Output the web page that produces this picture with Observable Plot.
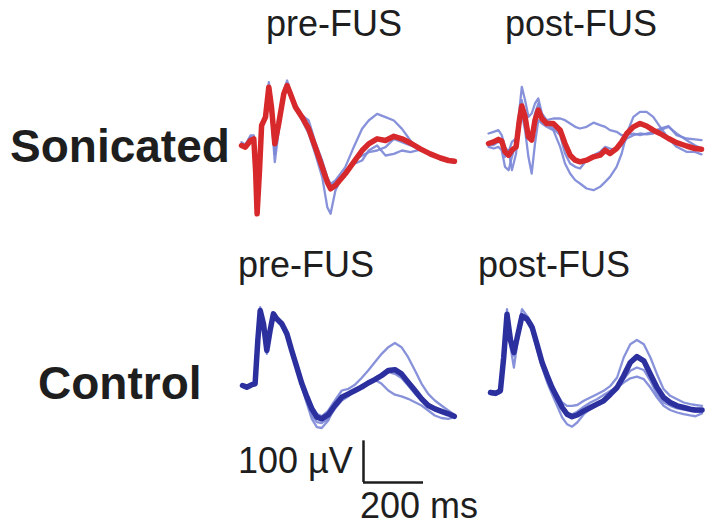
<!DOCTYPE html>
<html>
<head>
<meta charset="utf-8">
<script src="https://cdn.jsdelivr.net/npm/d3@7"></script>
<script src="https://cdn.jsdelivr.net/npm/@observablehq/plot@0.6"></script>
<style>
  html, body { margin: 0; padding: 0; background: #fff; }
  #fig { position: relative; width: 714px; height: 530px; overflow: hidden; background: #fff; font-family: "Liberation Sans", Arial, sans-serif; color: #1e1e1e; }
  .lab { position: absolute; white-space: nowrap; line-height: 1; }
  .reg { font-size: 36px; }
  .big { font-size: 46px; font-weight: bold; }
  .pnl { position: absolute; }
</style>
</head>
<body>
<div id="fig"></div>
<script>
// ---------- data (time in ms, voltage in µV) ----------
const colLabels = ["pre-FUS", "post-FUS"];
const rowLabels = ["Sonicated", "Control"];
const scaleBarVolt = 100;   // µV
const scaleBarTime = 200;   // ms
const scaleBarLabels = ["100 µV", "200 ms"];

// Sonicated, pre-FUS
const sonPreTime = [0,13,30,41,47,52,60,67,80,91,100,111,124,141,152,163,180,202,224,246,269,286,297,313,346,374,402,424,452,480,508,535,563,596,629,663,690,710];
const sonPreMean = [0,-4,12,16,-60,-164,-60,48,68,140,92,4,52,124,144,124,92,68,40,-4,-52,-88,-104,-96,-68,-40,-12,4,16,12,22,16,6,-8,-20,-30,-36,-38];
const sonPreTrialA = [8,2,24,24,-52,-130,-52,52,76,152,108,20,60,132,156,132,100,72,60,8,-36,-76,-92,-84,-52,-4,40,60,76,68,60,40,12,-12,-20,-30,-38,-42];
const sonPreTrialB = [-2,-4,20,16,-60,-156,-76,40,64,132,68,-40,36,116,148,116,88,60,28,-20,-76,-148,-164,-108,-60,-44,-36,-12,0,-24,-20,-12,-16,-10,-22,-30,-34,-41];
const sonPreTrialC = [2,-1,16,20,-56,-148,-68,44,68,136,84,-20,44,120,148,120,88,64,36,-12,-44,-84,-96,-88,-64,-36,-24,-16,-12,-4,16,8,0,-8,-18,-28,-34,-36];

// Sonicated, post-FUS
const sonPostTime = [0,17,33,44,55,67,78,92,103,111,122,133,144,155,166,178,194,216,239,255,272,289,305,327,350,372,389,405,427,444,461,483,505,527,549,572,600,627,660,688,710];
const sonPostMean = [0,4,10,6,-20,-28,-16,-8,56,90,64,16,8,56,80,60,48,48,32,0,-28,-40,-44,-40,-32,-28,-16,-24,-12,4,24,40,48,42,32,24,12,2,-6,-12,-14];
const sonPostTrialA = [24,28,32,20,-8,-20,4,12,80,136,104,64,72,96,108,72,56,60,60,56,48,40,36,40,50,44,40,32,28,20,20,24,20,24,28,36,42,20,12,10,8];
const sonPostTrialB = [-8,-12,-8,-16,-56,-64,-32,0,40,72,32,-32,-72,0,56,48,40,32,-8,-48,-72,-88,-96,-108,-112,-104,-92,-80,-56,-24,24,64,76,76,64,40,12,-8,-20,-20,-26];
const sonPostTrialC = [-4,-4,4,0,-32,-16,-64,-24,56,104,64,32,16,72,96,64,48,36,20,-24,-48,-56,-60,-40,-28,-20,-8,-12,-16,-4,12,20,24,22,24,32,40,24,8,-4,-12];

// Control, pre-FUS
const conPreTime = [0,14,31,42,51,59,70,81,92,103,114,131,148,164,181,198,215,231,248,264,286,308,331,353,375,397,419,441,464,486,508,530,552,575,597,619,641,663,686,706];
const conPreMean = [0,-4,2,4,108,180,148,84,132,172,160,148,124,84,44,4,-28,-56,-76,-80,-70,-48,-28,-20,-12,-4,6,14,24,36,38,28,8,-12,-32,-48,-56,-62,-68,-74];
const conPreTrialA = [2,-2,4,8,116,188,152,88,136,176,164,152,128,88,48,8,-24,-48,-68,-74,-60,-36,-12,-8,2,18,36,56,76,92,102,92,68,36,4,-20,-36,-48,-60,-70];
const conPreTrialB = [-2,-6,-1,2,100,172,140,76,124,166,156,142,116,80,36,-4,-40,-72,-88,-90,-80,-56,-36,-26,-12,0,8,14,4,-12,-22,-26,-32,-40,-48,-60,-72,-78,-80,-76];
const conPreTrialC = [0,-4,1,5,112,184,148,80,128,170,158,145,120,80,38,-4,-44,-80,-100,-102,-84,-48,-26,-24,-12,0,8,18,28,32,28,18,0,-20,-36,-44,-52,-60,-70,-73];

// Control, post-FUS
const conPostTime = [0,17,33,44,55,67,78,89,105,122,139,155,172,189,205,222,239,255,272,289,311,333,355,377,400,422,444,466,488,511,533,555,577,599,622,644,666,683,705];
const conPostMean = [0,-2,4,84,188,124,96,132,184,176,156,116,72,40,12,-12,-36,-52,-58,-54,-44,-36,-28,-20,-4,12,40,72,86,76,44,12,-12,-24,-32,-36,-40,-42,-42];
const conPostTrialA = [4,2,8,92,200,132,100,140,200,184,164,120,76,44,16,-4,-24,-32,-32,-30,-20,-12,-4,4,16,36,84,116,126,116,84,44,8,-8,-16,-24,-28,-30,-32];
const conPostTrialB = [-4,-6,0,72,180,108,60,116,180,172,148,104,60,24,-4,-32,-60,-76,-82,-72,-52,-40,-32,-24,-8,12,24,34,38,32,12,-12,-32,-42,-48,-52,-55,-57,-50];
const conPostTrialC = [-1,-3,3,80,184,120,88,128,188,178,158,118,74,38,8,-18,-40,-50,-52,-46,-34,-24,-16,-6,4,12,32,52,60,54,28,-4,-24,-32,-38,-41,-44,-46,-47];

// ---------- drawing ----------
const thinColor = "#7a86d6";
const redColor = "#d7282b";
const navyColor = "#2c309e";

const X_DOMAIN = [-20, 730];      // 225 px -> 3.33 ms per px
const Y_DOMAIN = [-201.6, 201.6]; // 168 px -> 2.4 µV per px
const PW = 225, PH = 168;

function panel(time, trials, mean, meanColor) {
  const trialRows = trials.flatMap((vals, k) => vals.map((v, i) => ({t: time[i], v, k})));
  const meanRows = mean.map((v, i) => ({t: time[i], v}));
  return Plot.plot({
    width: PW, height: PH, margin: 0,
    style: {background: "transparent", overflow: "visible"},
    x: {domain: X_DOMAIN, axis: null},
    y: {domain: Y_DOMAIN, axis: null},
    marks: [
      Plot.line(trialRows, {x: "t", y: "v", z: "k", stroke: thinColor, strokeWidth: 2.3, strokeOpacity: 0.9, strokeLinejoin: "round"}),
      Plot.line(meanRows, {x: "t", y: "v", stroke: meanColor, strokeWidth: 5.5, strokeLinejoin: "round", strokeLinecap: "round"})
    ]
  });
}

function scaleBar() {
  return Plot.plot({
    width: PW, height: PH, margin: 0,
    style: {background: "transparent", overflow: "visible"},
    x: {domain: X_DOMAIN, axis: null},
    y: {domain: Y_DOMAIN, axis: null},
    marks: [
      Plot.ruleX([0], {y1: 0, y2: scaleBarVolt, stroke: "#1e1e1e", strokeWidth: 2.5}),
      Plot.ruleY([0], {x1: 0, x2: scaleBarTime, stroke: "#1e1e1e", strokeWidth: 2.5})
    ]
  });
}

const fig = document.getElementById("fig");
function place(node, left, top) {
  node.classList.add("pnl");
  node.style.position = "absolute";
  node.style.left = left + "px";
  node.style.top = top + "px";
  fig.appendChild(node);
}
function label(text, cls, left, top) {
  const d = document.createElement("div");
  d.className = "lab " + cls;
  d.textContent = text;
  d.style.left = left + "px";
  d.style.top = top + "px";
  fig.appendChild(d);
}

// panel origin (t=0, v=0) sits at (6, 84) inside each SVG
place(panel(sonPreTime, [sonPreTrialA, sonPreTrialB, sonPreTrialC], sonPreMean, redColor), 235, 61);
place(panel(sonPostTime, [sonPostTrialA, sonPostTrialB, sonPostTrialC], sonPostMean, redColor), 482, 59);
place(panel(conPreTime, [conPreTrialA, conPreTrialB, conPreTrialC], conPreMean, navyColor), 236, 301);
place(panel(conPostTime, [conPostTrialA, conPostTrialB, conPostTrialC], conPostMean, navyColor), 484, 308);
place(scaleBar(), 357, 398);

label(colLabels[0], "reg", 266, 5.5);
label(colLabels[1], "reg", 505, 5.5);
label(colLabels[0], "reg", 238, 246.5);
label(colLabels[1], "reg", 478, 246.5);
label(rowLabels[0], "big", 10, 123);
label(rowLabels[1], "big", 38, 360);
label(scaleBarLabels[0], "reg", 238, 442.5);
label(scaleBarLabels[1], "reg", 360, 487.5);
</script>
</body>
</html>
